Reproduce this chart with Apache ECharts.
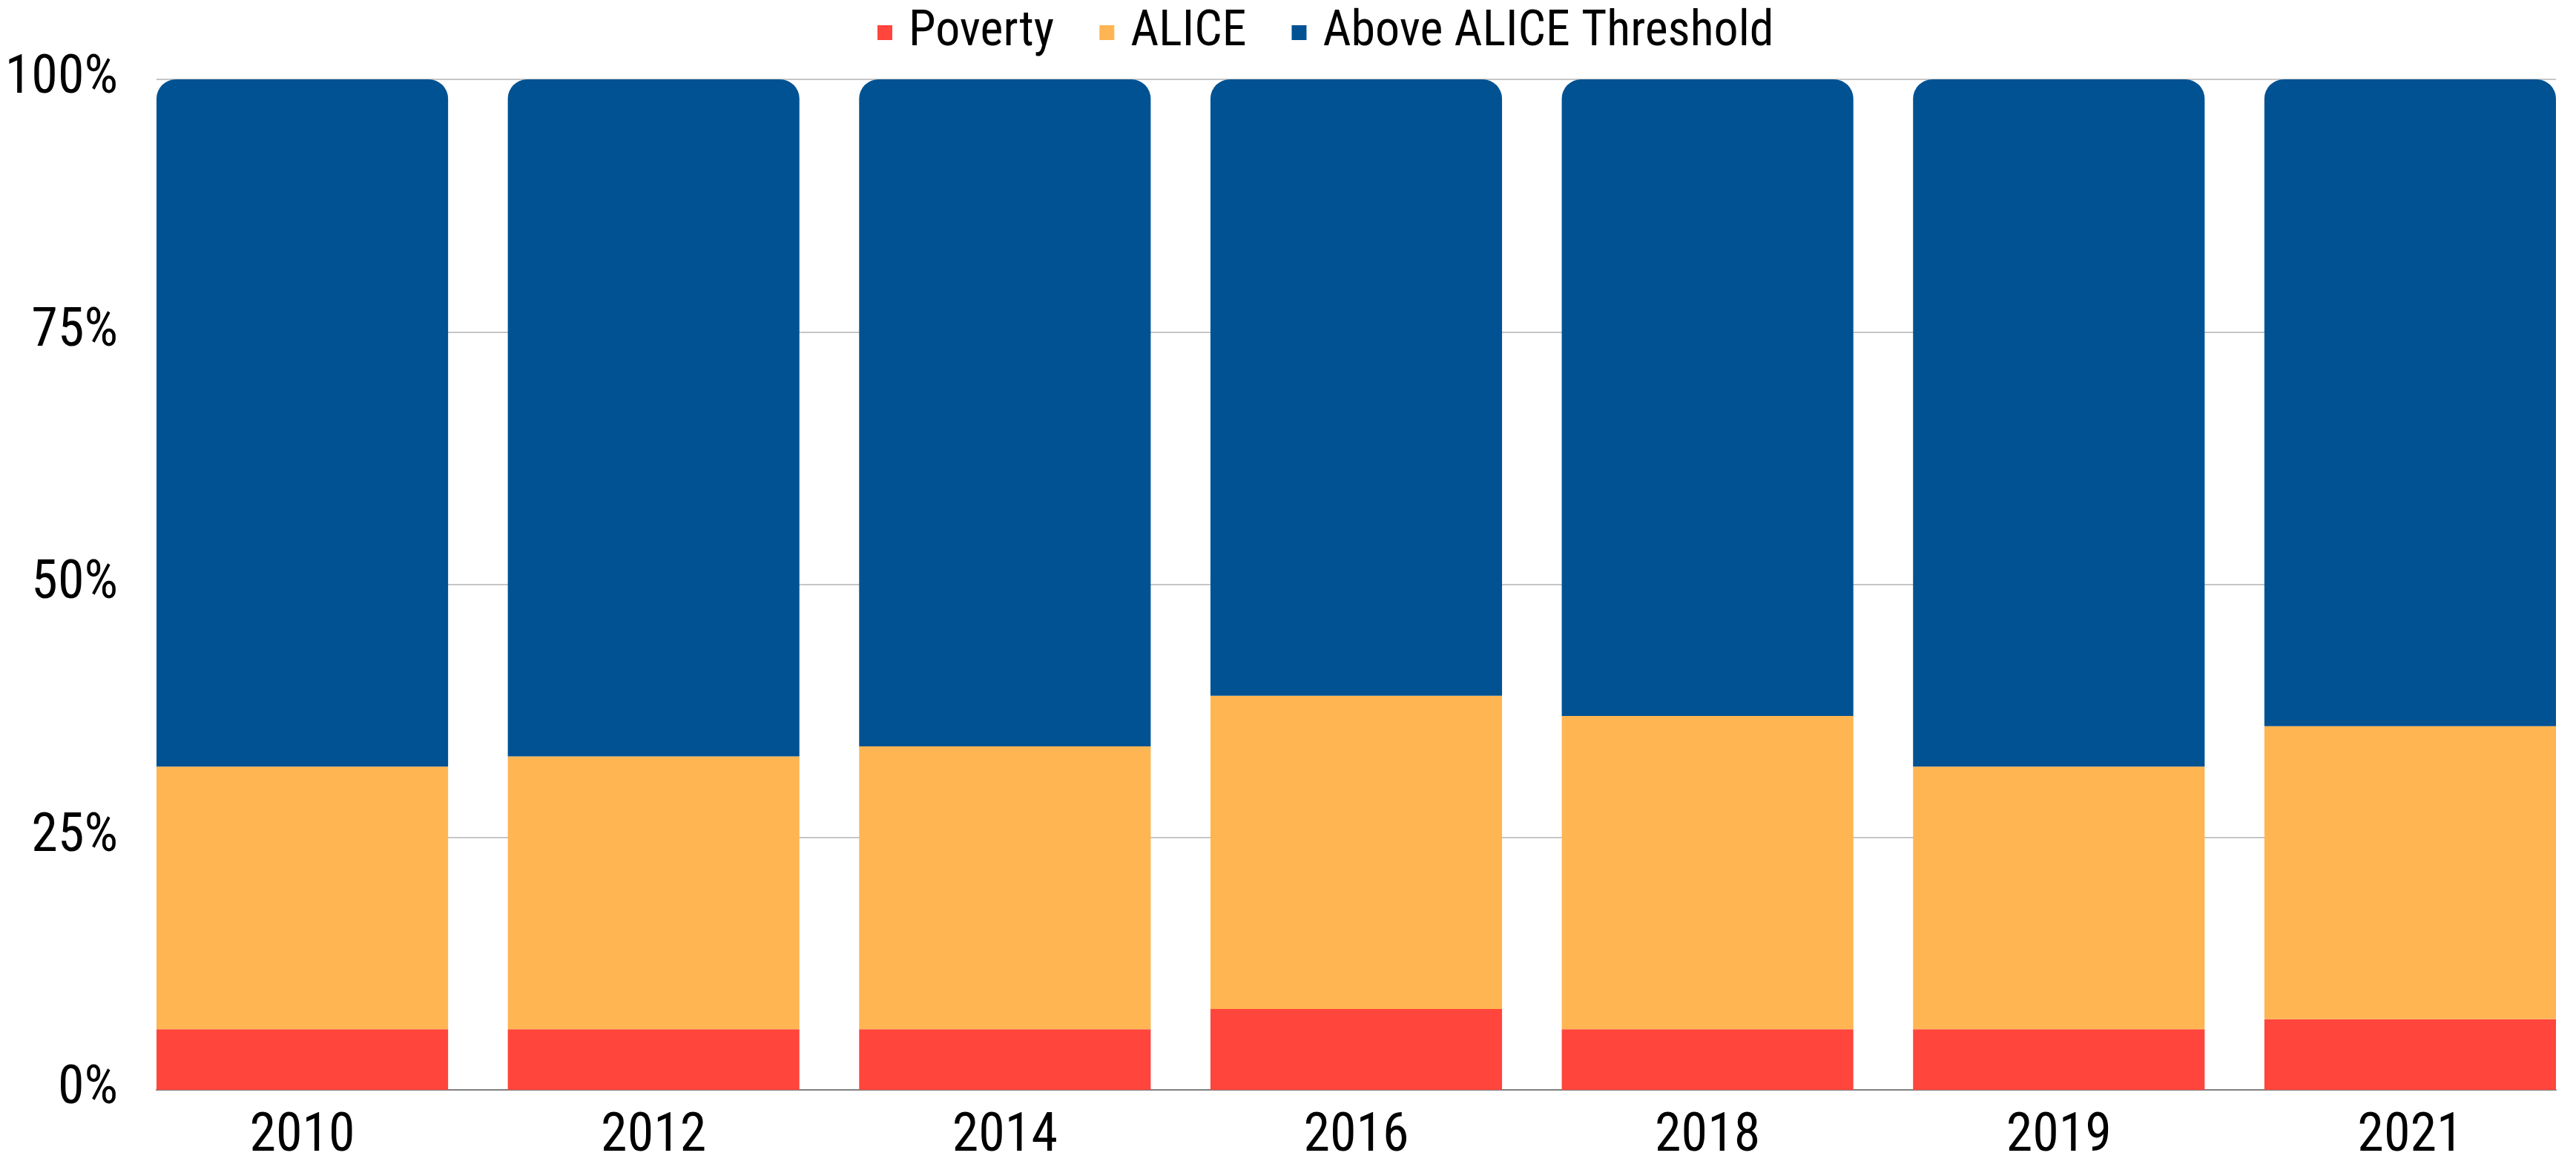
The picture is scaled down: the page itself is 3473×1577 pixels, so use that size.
<!DOCTYPE html>
<html>
<head>
<meta charset="utf-8">
<script src="https://cdn.jsdelivr.net/npm/echarts@6/dist/echarts.min.js"></script>
<style>
html,body{margin:0;padding:0;background:#fff;}
#chart{width:3473px;height:1577px;}
</style>
</head>
<body>
<div id="chart"></div>
<script>
const years = ['2010','2012','2014','2016','2018','2019','2021'];
const poverty = [6, 6, 6, 8, 6, 6, 7];
const alice = [26, 27, 28, 31, 31, 26, 29];
const above = [68, 67, 66, 61, 63, 68, 64];
const yTicks = [0, 25, 50, 75, 100];

(function () {
const FONT = "'Liberation Sans Narrow', 'Roboto Condensed', 'DejaVu Sans Condensed', Roboto, sans-serif";
const chart = echarts.init(document.getElementById('chart'), null, {renderer: 'canvas'});

const plotLeft = 211, plotWidth = 3235, gridTop = 107, gridBottom = 108;
const band = plotWidth / (7 - 0.17);
const gap = band * 0.17;

chart.setOption({
  animation: false,
  backgroundColor: '#ffffff',
  color: ['#FF453C', '#FFB552', '#005293'],
  legend: {
    top: 6,
    left: 1178,
    itemWidth: 20,
    itemHeight: 20,
    itemGap: 61,
    icon: 'rect',
    textStyle: {fontFamily: FONT, fontSize: 66, color: '#000', padding: [0, 0, 0, 17]},
    data: ['Poverty', 'ALICE', 'Above ALICE Threshold']
  },
  grid: [
    {left: plotLeft - gap / 2, width: band * 7, top: gridTop, bottom: gridBottom, outerBoundsMode: 'none', containLabel: false},
    {left: plotLeft, width: plotWidth, top: gridTop, bottom: gridBottom, outerBoundsMode: 'none', containLabel: false}
  ],
  xAxis: [
    {
      type: 'category', gridIndex: 0, data: years,
      axisLine: {show: false}, axisTick: {show: false},
      axisLabel: {fontFamily: FONT, fontSize: 72, color: '#000', margin: 28}
    },
    {
      type: 'category', gridIndex: 1, data: years,
      axisLine: {show: true, lineStyle: {color: '#7f7f7f', width: 2}},
      axisTick: {show: false}, axisLabel: {show: false}, splitLine: {show: false}
    }
  ],
  yAxis: [
    {type: 'value', gridIndex: 0, min: 0, max: 100, interval: 25, show: false, splitLine: {show: false}},
    {
      type: 'value', gridIndex: 1, min: yTicks[0], max: yTicks[yTicks.length - 1], interval: 25,
      axisLine: {show: false}, axisTick: {show: false},
      axisLabel: {fontFamily: FONT, fontSize: 72, color: '#000', margin: 52, formatter: '{value}%'},
      splitLine: {show: true, lineStyle: {color: '#c6c6c6', width: 2}}
    }
  ],
  series: [
    {name: 'Poverty', type: 'bar', stack: 'a', xAxisIndex: 0, yAxisIndex: 0, data: poverty, barCategoryGap: '17%'},
    {name: 'ALICE', type: 'bar', stack: 'a', xAxisIndex: 0, yAxisIndex: 0, data: alice, barCategoryGap: '17%'},
    {name: 'Above ALICE Threshold', type: 'bar', stack: 'a', xAxisIndex: 0, yAxisIndex: 0, data: above, barCategoryGap: '17%',
     itemStyle: {borderRadius: [26, 26, 0, 0]}}
  ]
});
})();
</script>
</body>
</html>
